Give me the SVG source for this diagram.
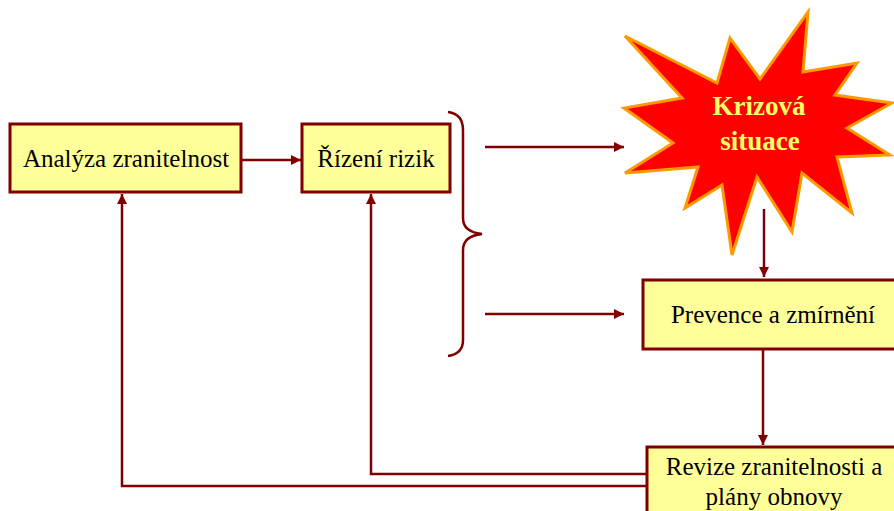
<svg xmlns="http://www.w3.org/2000/svg" width="894" height="511" viewBox="0 0 894 511">
  <style>
    .box { fill: #FFFF99; stroke: #800000; stroke-width: 3; }
    .lbl { font-family: "Liberation Serif", "Times New Roman", serif; font-size: 25px; fill: #000; text-anchor: middle; }
    .conn { fill: none; stroke: #800000; stroke-width: 2.5; }
    .star { fill: #FF0000; stroke: #FF9900; stroke-width: 3; stroke-linejoin: miter; }
    .starlbl { font-family: "Liberation Serif", "Times New Roman", serif; font-size: 27px; font-weight: bold; fill: #FFFF66; text-anchor: middle; }
  </style>
  <defs>
    <marker id="arr" viewBox="0 0 10 10" refX="10" refY="5" markerWidth="4" markerHeight="4" orient="auto" markerUnits="strokeWidth">
      <path d="M0,0 L10,5 L0,10 Z" fill="#800000"/>
    </marker>
  </defs>
  <rect width="894" height="511" fill="#FFFFFF"/>

  <g id="connectors">
    <path class="conn" d="M241,160 H301" marker-end="url(#arr)"/>
    <path class="conn" d="M485,147 H624" marker-end="url(#arr)"/>
    <path class="conn" d="M485,314 H624" marker-end="url(#arr)"/>
    <path class="conn" d="M764,209 V277" marker-end="url(#arr)"/>
    <path class="conn" d="M763,349 V445" marker-end="url(#arr)"/>
    <path class="conn" d="M647,474 H371 V194" marker-end="url(#arr)"/>
    <path class="conn" d="M647,486 H122 V194" marker-end="url(#arr)"/>
    <path id="brace" class="conn" d="M448,112 Q463,114 463,130 V218 Q463,232 482,234 Q463,236 463,250 V340 Q463,354 448,356"/>
  </g>

  <g id="analyza">
    <rect class="box" x="10" y="124" width="231" height="68"/>
    <text class="lbl" x="126" y="167">Analýza zranitelnost</text>
  </g>

  <g id="rizeni">
    <rect class="box" x="302" y="124" width="148" height="68"/>
    <text class="lbl" x="376" y="167">Řízení rizik</text>
  </g>

  <g id="krize">
    <polygon class="star" points="625,36 717,83 730,38 760,79 808,12 803,72 857,63 835,95 892,103 847,128 890,155 837,157 852,213 802,173 792,232 757,177 732,255 722,185 685,208 698,167 625,173 673,143 624,108 682,98"/>
    <text class="starlbl" x="759" y="115">Krizová</text>
    <text class="starlbl" x="760" y="150">situace</text>
  </g>

  <g id="prevence">
    <rect class="box" x="643" y="280" width="270" height="69"/>
    <text class="lbl" x="773" y="323">Prevence a zmírnění</text>
  </g>

  <g id="revize">
    <rect class="box" x="647" y="447" width="270" height="80"/>
    <text class="lbl" x="774" y="475">Revize zranitelnosti a</text>
    <text class="lbl" x="774" y="505">plány obnovy</text>
  </g>
</svg>
